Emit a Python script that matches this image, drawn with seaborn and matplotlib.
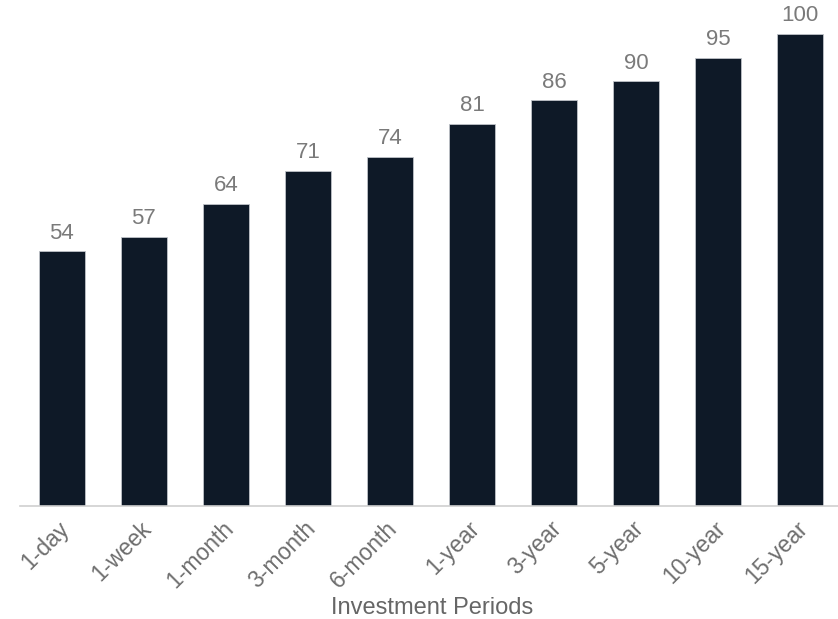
import matplotlib
matplotlib.use("Agg")
import matplotlib.pyplot as plt
import matplotlib.transforms as mtransforms
import seaborn as sns
import pandas as pd

periods = ["1-day", "1-week", "1-month", "3-month", "6-month", "1-year",
           "3-year", "5-year", "10-year", "15-year"]
values = [54, 57, 64, 71, 74, 81, 86, 90, 95, 100]

sns.set_theme(style="white")
plt.rcParams['font.family'] = ['Liberation Sans', 'DejaVu Sans']

df = pd.DataFrame({"period": periods, "value": values})

fig = plt.figure(figsize=(8.38, 6.19), dpi=100)
ax = fig.add_axes([20/838, 113/619, 818/838, 506/619])
sns.barplot(data=df, x="period", y="value", color="#0e1927", width=0.56,
            saturation=1, ax=ax, edgecolor="#bfc3c8", linewidth=0.6)

for i, v in enumerate(values):
    ax.text(i, v + 1.6, str(v), ha="center", va="bottom", fontsize=16,
            color="#7a7a7a")

ax.set_xlim(-0.51, 9.46)
ax.set_ylim(0, 107.2)
ax.set_yticks([])
ax.set_ylabel("")
ax.set_xlabel("Investment Periods", fontsize=17, color="#666666")
ax.xaxis.set_label_coords(0.504, -0.202)
ax.xaxis.label.set_va("center")
ax.tick_params(axis="x", length=0, pad=8, labelsize=16.5, labelcolor="#6e6e6e")
offset = mtransforms.ScaledTranslation(-4/100, 0, fig.dpi_scale_trans)
for lab in ax.get_xticklabels():
    lab.set_rotation(45)
    lab.set_ha("right")
    lab.set_rotation_mode("anchor")
    lab.set_transform(lab.get_transform() + offset)
for s in ["top", "right", "left"]:
    ax.spines[s].set_visible(False)
ax.spines["bottom"].set_color("#d0d0d0")
ax.spines["bottom"].set_linewidth(1.2)

fig.savefig("out.png", dpi=100)
